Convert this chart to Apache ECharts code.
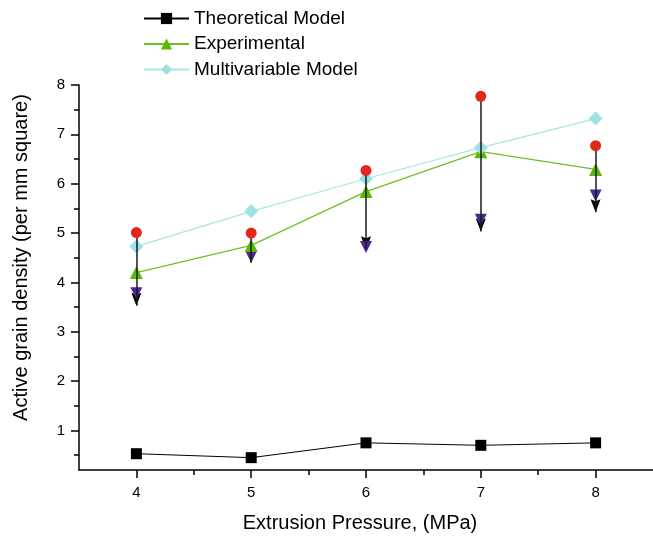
<!DOCTYPE html>
<html>
<head>
<meta charset="utf-8">
<script src="https://cdn.jsdelivr.net/npm/echarts@6/dist/echarts.min.js"></script>
<style>
  html, body { margin: 0; padding: 0; background: #fff; }
  #chart { width: 653px; height: 536px; }
</style>
</head>
<body>
<div id="chart"></div>
<script>
// extrusion pressure (MPa)
var pressure = [4, 5, 6, 7, 8];
var theoretical = [0.53, 0.45, 0.75, 0.70, 0.75];
var experimental = [4.20, 4.75, 5.84, 6.65, 6.29];
var multivariable = [4.73, 5.44, 6.10, 6.73, 7.32];
// range markers: upper (red dots), lower (purple triangles), arrow tips
var upperVal = [5.01, 5.00, 6.27, 7.77, 6.77];
var lowerVal = [3.78, 4.52, 4.72, 5.27, 5.76];
var arrowTip = [3.53, 4.40, 4.67, 5.03, 5.42];
// tick labels
var xTicks = [4, 5, 6, 7, 8];
var xMinorTicks = [4.5, 5.5, 6.5, 7.5];
var yTicks = [1, 2, 3, 4, 5, 6, 7, 8];
var yMinorTicks = [0.5, 1.5, 2.5, 3.5, 4.5, 5.5, 6.5, 7.5];

function pairs(ys) {
  return pressure.map(function (x, i) { return [x, ys[i]]; });
}

var font = 'Liberation Sans, Arial, sans-serif';
var chart = echarts.init(document.getElementById('chart'));

var arrows = pressure.map(function (x, i) {
  return [{ coord: [x, upperVal[i]] }, { coord: [x, arrowTip[i]] }];
});

var option = {
  animation: false,
  legend: {
    data: ['Theoretical Model', 'Experimental', 'Multivariable Model'],
    orient: 'vertical',
    left: 138,
    top: 4,
    itemWidth: 45,
    itemHeight: 14,
    itemGap: 6.5,
    textStyle: { fontFamily: font, fontSize: 19, color: '#000' }
  },
  grid: { left: 79, right: 0, top: 85, bottom: 66, containLabel: false, outerBoundsMode: 'none' },
  xAxis: [{
    type: 'value',
    min: 3.5,
    max: 8.5,
    name: 'Extrusion Pressure, (MPa)',
    nameLocation: 'middle',
    nameGap: 43,
    nameTextStyle: { fontFamily: font, fontSize: 20, color: '#000', padding: [0, 12, 0, 0] },
    axisLine: { show: true, lineStyle: { color: '#000', width: 1.5 } },
    axisTick: { show: true, customValues: xTicks, length: 8, lineStyle: { color: '#000', width: 1.5 } },
    axisLabel: { customValues: xTicks, margin: 15, fontFamily: font, fontSize: 15, color: '#000' },
    splitLine: { show: false }
  }, {
    type: 'value',
    position: 'bottom',
    min: 3.5,
    max: 8.5,
    axisLine: { show: false },
    axisTick: { show: true, customValues: xMinorTicks, length: 5, lineStyle: { color: '#000', width: 1.5 } },
    axisLabel: { show: false },
    splitLine: { show: false }
  }],
  yAxis: [{
    type: 'value',
    min: 0.2,
    max: 8,
    name: 'Active grain density (per mm square)',
    nameLocation: 'middle',
    nameGap: 48,
    nameTextStyle: { fontFamily: font, fontSize: 20, color: '#000', padding: [0, 0, 0, 40] },
    axisLine: { show: true, lineStyle: { color: '#000', width: 1.5 } },
    axisTick: { show: true, customValues: yTicks, length: 8, lineStyle: { color: '#000', width: 1.5 } },
    axisLabel: { customValues: yTicks, margin: 14, fontFamily: font, fontSize: 15, color: '#000' },
    splitLine: { show: false }
  }, {
    type: 'value',
    position: 'left',
    min: 0.2,
    max: 8,
    axisLine: { show: false },
    axisTick: { show: true, customValues: yMinorTicks, length: 5, lineStyle: { color: '#000', width: 1.5 } },
    axisLabel: { show: false },
    splitLine: { show: false }
  }],
  series: [
    {
      name: 'range',
      type: 'line',
      data: [],
      z: 3,
      markLine: {
        silent: true,
        symbol: 'none',
        label: { show: false },
        lineStyle: { color: '#1a1a1a', width: 1.5, type: 'solid' },
        data: arrows
      }
    },
    {
      name: 'arrowhead',
      type: 'scatter',
      data: pairs(arrowTip),
      // downward arrowhead with notched back, tip sits on the value
      symbol: 'path://M0,0 L5,2 L10,0 L5,13 Z',
      symbolSize: [10, 13],
      symbolOffset: [0, '-50%'],
      itemStyle: { color: '#000', opacity: 1 },
      silent: true,
      z: 3
    },
    {
      name: 'Theoretical Model',
      type: 'line',
      data: pairs(theoretical),
      symbol: 'rect',
      symbolSize: 11,
      itemStyle: { color: '#000' },
      lineStyle: { color: '#000', width: 1 },
      z: 4
    },
    {
      name: 'Experimental',
      type: 'line',
      data: pairs(experimental),
      symbol: 'triangle',
      symbolSize: 13,
      itemStyle: { color: '#5cb800' },
      lineStyle: { color: '#6cc020', width: 1.2 },
      z: 4
    },
    {
      name: 'Multivariable Model',
      type: 'line',
      data: pairs(multivariable),
      symbol: 'diamond',
      symbolSize: 14,
      itemStyle: { color: '#a0e2e2' },
      lineStyle: { color: '#a8e6e6', width: 1.2 },
      z: 4
    },
    {
      name: 'upper',
      type: 'scatter',
      data: pairs(upperVal),
      symbol: 'circle',
      symbolSize: 11,
      itemStyle: { color: '#e2281a', opacity: 1 },
      z: 5
    },
    {
      name: 'lower',
      type: 'scatter',
      data: pairs(lowerVal),
      symbol: 'triangle',
      symbolRotate: 180,
      symbolSize: 12,
      itemStyle: { color: '#4a2a92', opacity: 1 },
      z: 3.5
    }
  ]
};

chart.setOption(option);
</script>
</body>
</html>
